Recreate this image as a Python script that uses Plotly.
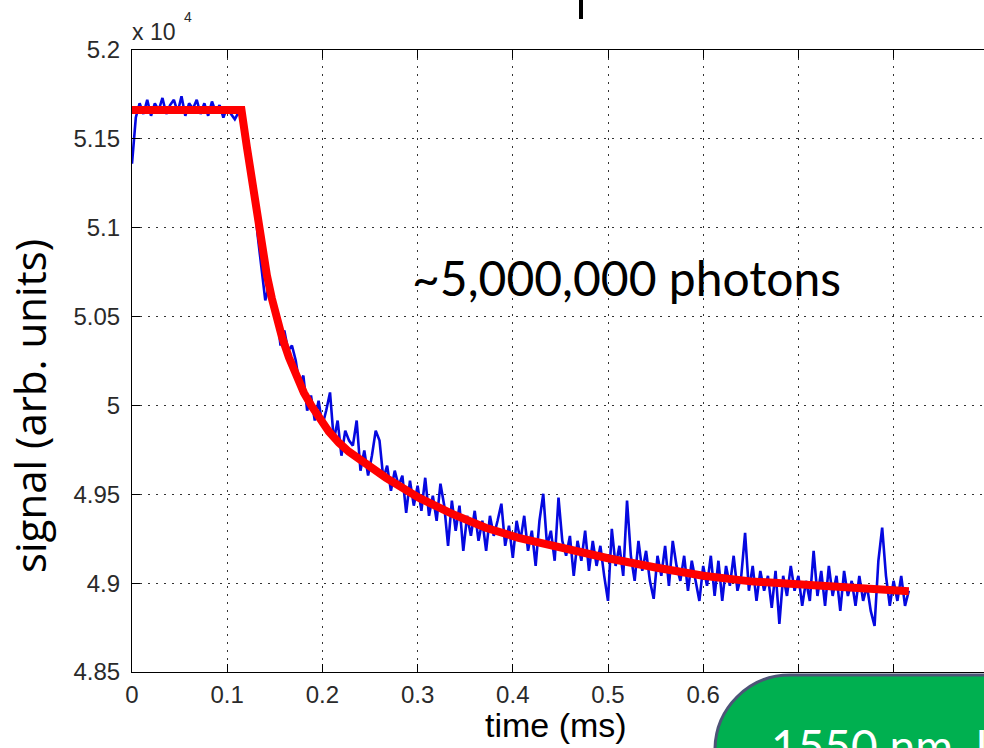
import numpy as np
import plotly.graph_objects as go

# Recorded photodiode signal, one sample every 4 microseconds
sample_ms = 0.004
signal_raw = [
    51360, 51620, 51700, 51640, 51720, 51630, 51700, 51660, 51730, 51640,
    51690, 51720, 51650, 51740, 51630, 51700, 51670, 51720, 51640, 51700,
    51630, 51710, 51650, 51690, 51620, 51680, 51640, 51610, 51650, 51600,
    51549, 51324, 51183, 50957, 50760, 50591, 50676, 50591, 50535, 50337,
    50422, 50309, 50337, 50253, 50112, 50168, 49971, 50056, 49915, 50027,
    49887, 49971, 50073, 49802, 49915, 49717, 49858, 49802, 49774, 49915,
    49633, 49746, 49605, 49717, 49858, 49802, 49588, 49661, 49520, 49633,
    49548, 49605, 49396, 49577, 49436, 49548, 49407, 49593, 49379, 49492,
    49351, 49560, 49436, 49210, 49464, 49295, 49436, 49182, 49379, 49266,
    49407, 49238, 49351, 49182, 49379, 49266, 49351, 49447, 49210, 49323,
    49142, 49351, 49238, 49379, 49182, 49295, 49097, 49351, 49503, 49210,
    49295, 49126, 49481, 49238, 49154, 49266, 49041, 49238, 49126, 49295,
    49069, 49238, 49097, 49210, 49041, 48900, 49306, 49097, 49210, 49041,
    49464, 49154, 49013, 49238, 49069, 49182, 49013, 48912, 49154, 49041,
    49210, 48985, 49238, 49097, 49013, 49154, 48957, 49126, 49013, 48900,
    49097, 48985, 49154, 48928, 49126, 48900, 49097, 48985, 49154, 48957,
    49041, 49283, 48957, 49097, 48900, 49069, 48957, 49041, 48861, 49069,
    48771, 49041, 48928, 49097, 48957, 49041, 48872, 49013, 48900, 49182,
    48928, 49069, 48872, 49097, 48928, 49041, 48844, 49069, 48928, 49013,
    48872, 49041, 48900, 48985, 48844, 48759, 49126, 49312, 49041, 48872,
    49013, 48900, 49041, 48872, 48957,
]

# Fitted decay curve
fit_time_ms = [0.000, 0.115, 0.1207, 0.1259, 0.1312, 0.1364, 0.1417, 0.1469,
               0.1522, 0.1574, 0.1648, 0.1721, 0.1805, 0.1889, 0.1983, 0.2067,
               0.2172, 0.2277, 0.2665, 0.3012, 0.3358, 0.3715, 0.4061, 0.45,
               0.50, 0.55, 0.60, 0.65, 0.70, 0.75, 0.80, 0.816]
fit_signal = [51662, 51662, 51453, 51267, 51081, 50890, 50732, 50602,
              50490, 50388, 50270, 50168, 50072, 49994, 49915, 49853,
              49791, 49740, 49594, 49481, 49391, 49312, 49255, 49200,
              49140, 49088, 49042, 49010, 48990, 48972, 48960, 48955]

x_ticks = [0, 0.1, 0.2, 0.3, 0.4, 0.5, 0.6, 0.7, 0.8]
x_tick_labels = ["0", "0.1", "0.2", "0.3", "0.4", "0.5", "0.6", "0.7", "0.8"]
y_ticks = [48500, 49000, 49500, 50000, 50500, 51000, 51500, 52000]
y_tick_labels = ["4.85", "4.9", "4.95", "5", "5.05", "5.1", "5.15", "5.2"]

W, H = 984, 748
L_PX, R_PX, T_PX, B_PX = 132, 984, 50, 672


def px_x(px):
    return (px - L_PX) / (R_PX - L_PX)


def px_y(py):
    return (B_PX - py) / (B_PX - T_PX)


t_raw = np.arange(len(signal_raw)) * sample_ms

fig = go.Figure()
fig.add_trace(go.Scatter(x=t_raw, y=signal_raw, mode="lines",
                         line=dict(color="#0508e0", width=2.6),
                         hoverinfo="skip"))
fig.add_trace(go.Scatter(x=fit_time_ms, y=fit_signal, mode="lines",
                         line=dict(color="#ff0000", width=8),
                         hoverinfo="skip"))

tick_font = dict(family="Liberation Sans, Arial", size=24, color="#2a2a2a")
grid_dash = "2px,6px"

fig.update_xaxes(range=[0, (R_PX - L_PX) / 952.0], tickmode="array",
                 tickvals=x_ticks, ticktext=x_tick_labels,
                 ticks="inside", ticklen=8, tickcolor="black", tickwidth=1,
                 showline=True, linecolor="black", linewidth=1.2, mirror="ticks",
                 showgrid=True, gridcolor="#333", griddash=grid_dash, gridwidth=1,
                 zeroline=False, tickfont=tick_font, ticklabelstandoff=1)
fig.update_yaxes(range=[48500, 52000], tickmode="array",
                 tickvals=y_ticks, ticktext=y_tick_labels,
                 ticks="inside", ticklen=8, tickcolor="black", tickwidth=1,
                 showline=True, linecolor="black", linewidth=1.2, mirror=False,
                 showgrid=True, gridcolor="#333", griddash=grid_dash, gridwidth=1,
                 zeroline=False, tickfont=tick_font, ticklabelstandoff=6)

# Rounded green label box in the lower-right corner
box_l, box_t, rad, box_r, box_b = 715, 675, 75, 1100, 820
k = 0.5523 * rad
pts = [
    ("M", [(box_l, box_b)]),
    ("L", [(box_l, box_t + rad)]),
    ("C", [(box_l, box_t + rad - k), (box_l + rad - k, box_t), (box_l + rad, box_t)]),
    ("L", [(box_r, box_t)]),
    ("L", [(box_r, box_b)]),
]
path = ""
for cmd, coords in pts:
    path += cmd + " " + " ".join(f"{px_x(a):.5f},{px_y(b):.5f}" for a, b in coords) + " "
path += "Z"

fig.add_shape(type="path", path=path, xref="paper", yref="paper",
              fillcolor="#00b050", line=dict(color="#4d5477", width=3),
              layer="above")
# Title stroke peeking in at the top edge
fig.add_shape(type="line", xref="paper", yref="paper",
              x0=px_x(581), x1=px_x(581), y0=px_y(-2), y1=px_y(19),
              line=dict(color="black", width=4), layer="above")

annotations = [
    dict(text="~5,000,000 photons", x=px_x(410), y=px_y(277),
         xanchor="left", yanchor="middle",
         font=dict(family="Lato", size=48, color="black")),
    dict(text="x 10", x=px_x(130), y=px_y(32),
         xanchor="left", yanchor="middle",
         font=dict(family="Liberation Sans, Arial", size=23, color="#2a2a2a")),
    dict(text="4", x=px_x(182), y=px_y(17),
         xanchor="left", yanchor="middle",
         font=dict(family="Liberation Sans, Arial", size=14, color="#2a2a2a")),
    dict(text="time (ms)", x=px_x(556), y=px_y(725),
         xanchor="center", yanchor="middle",
         font=dict(family="Liberation Sans, Arial", size=34, color="black")),
    dict(text="signal (arb. units)", x=px_x(29), y=px_y(406),
         xanchor="center", yanchor="middle", textangle=-90,
         font=dict(family="Open Sans", size=42, color="black")),
    dict(text="1550 nm, L", x=px_x(769), y=px_y(716),
         xanchor="left", yanchor="top",
         font=dict(family="Lato", size=46, color="white")),
]
for a in annotations:
    a.update(xref="paper", yref="paper", showarrow=False)

fig.update_layout(width=W, height=H, autosize=False,
                  margin=dict(l=L_PX, r=W - R_PX, t=T_PX, b=H - B_PX, pad=0),
                  paper_bgcolor="white", plot_bgcolor="white",
                  showlegend=False, annotations=annotations)

fig.write_html("out.html", config={"displayModeBar": False})
